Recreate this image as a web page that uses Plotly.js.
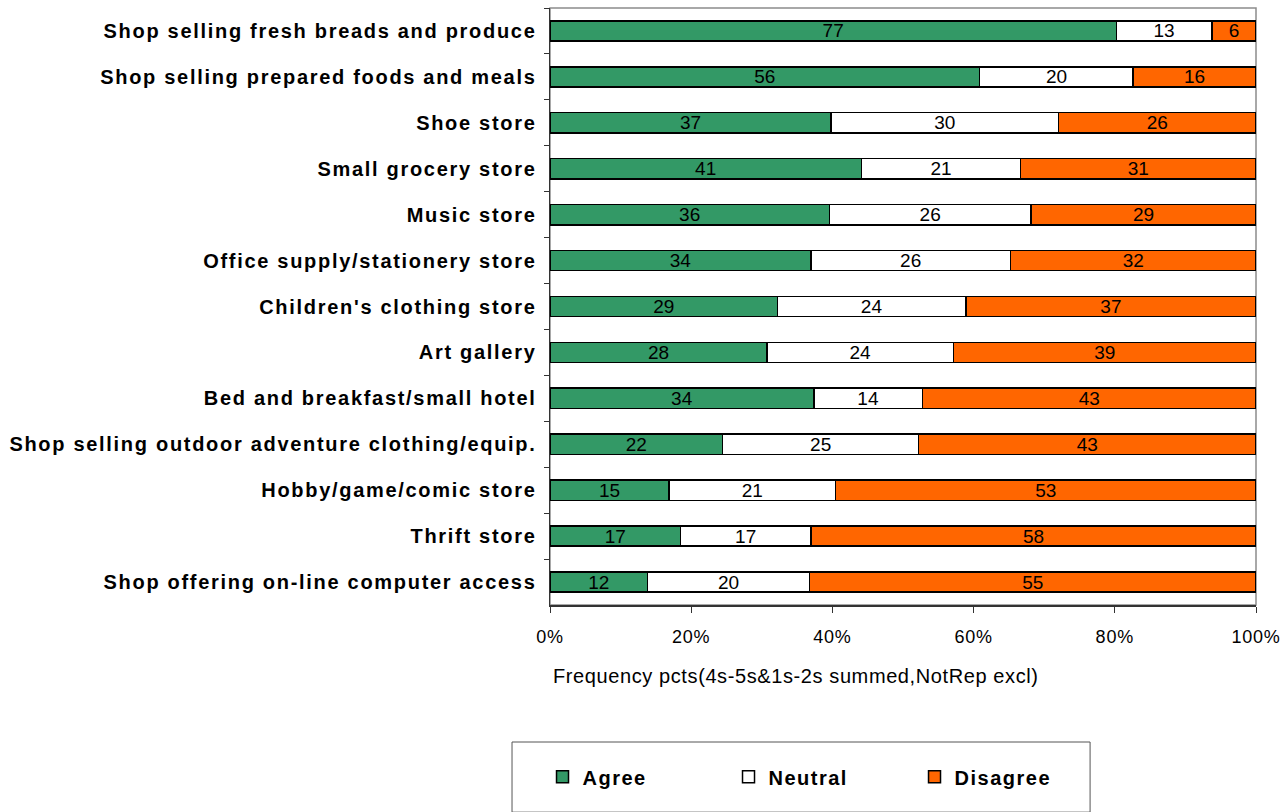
<!DOCTYPE html>
<html>
<head>
<meta charset="utf-8">
<script src="https://cdn.plot.ly/plotly-3.0.1.min.js"></script>
<style>
html, body { margin: 0; padding: 0; background: #fff; }
#chart { width: 1288px; height: 812px; }
.yaxislayer-above .ytick text { letter-spacing: 1.7px; }
.xaxislayer-above .xtick text { letter-spacing: 0.8px; }
.legendtext { letter-spacing: 1.5px; }
.annotation-text { letter-spacing: 0.6px; }
</style>
</head>
<body>
<div id="chart"></div>
<script>
const categories = [
  "Shop selling fresh breads and produce",
  "Shop selling prepared foods and meals",
  "Shoe store",
  "Small grocery store",
  "Music store",
  "Office supply/stationery store",
  "Children's clothing store",
  "Art gallery",
  "Bed and breakfast/small hotel",
  "Shop selling outdoor adventure clothing/equip.",
  "Hobby/game/comic store",
  "Thrift store",
  "Shop offering on-line computer access"
];
const agree    = [77, 56, 37, 41, 36, 34, 29, 28, 34, 22, 15, 17, 12];
const neutral  = [13, 20, 30, 21, 26, 26, 24, 24, 14, 25, 21, 17, 20];
const disagree = [ 6, 16, 26, 31, 29, 32, 37, 39, 43, 43, 53, 58, 55];
const seriesNames = ["Agree", "Neutral", "Disagree"];
const xTickVals = [0, 20, 40, 60, 80, 100];
const xTickText = ["0%", "20%", "40%", "60%", "80%", "100%"];
const xTitle = "Frequency pcts(4s-5s&1s-2s summed,NotRep excl)";

const colors = ["#339966", "#FFFFFF", "#FF6600"];
const series = [agree, neutral, disagree];
const baseFont = "Liberation Sans, Arial, sans-serif";
const numFont = {family: baseFont, size: 19, color: "#000"};

const traces = series.map((vals, i) => ({
  type: "bar",
  orientation: "h",
  name: seriesNames[i],
  y: categories,
  x: vals,
  text: vals.map(String),
  textposition: "inside",
  insidetextanchor: "middle",
  textangle: 0,
  constraintext: "none",
  textfont: numFont,
  marker: {color: colors[i], line: {color: "#000", width: 1.5}},
  hoverinfo: "skip"
}));

const layout = {
  width: 1288, height: 812,
  margin: {l: 550, r: 32, t: 8, b: 207},
  paper_bgcolor: "#fff",
  plot_bgcolor: "#fff",
  barmode: "stack",
  barnorm: "percent",
  bargap: 0.56,
  showlegend: true,
  legend: {
    orientation: "h",
    x: -0.0106, xanchor: "left",
    y: -0.255, yanchor: "top",
    font: {family: baseFont, size: 20, color: "#000", weight: "bold"},
    entrywidth: 141,
    traceorder: "normal",
    bgcolor: "rgba(0,0,0,0)"
  },
  xaxis: {
    range: [0, 100],
    tickvals: xTickVals,
    ticktext: xTickText,
    ticks: "outside", ticklen: 6, tickcolor: "#333",
    ticklabelstandoff: 9,
    showgrid: false, zeroline: false,
    showline: true, linecolor: "#333", linewidth: 1.5,
    tickfont: {family: baseFont, size: 18, color: "#000"},
    fixedrange: true
  },
  yaxis: {
    autorange: "reversed",
    type: "category",
    ticks: "outside", ticklen: 5, tickcolor: "#333",
    tickson: "boundaries",
    showgrid: false, zeroline: false,
    showline: true, linecolor: "#333", linewidth: 1.5,
    tickfont: {family: baseFont, size: 20, color: "#000", weight: "bold"},
    ticklabelstandoff: 8,
    fixedrange: true
  },
  annotations: [
    {text: xTitle, xref: "paper", yref: "paper", x: 0.348, y: -0.119,
     xanchor: "center", yanchor: "middle", showarrow: false,
     font: {family: baseFont, size: 20, color: "#000"}}
  ],
  shapes: [
    {type: "rect", xref: "paper", yref: "paper", x0: 0, x1: 1, y0: 0, y1: 1,
     line: {color: "#8c8c8c", width: 1.5}, fillcolor: "rgba(0,0,0,0)", layer: "below"},
    {type: "rect", xref: "paper", yref: "paper", x0: -0.0538, x1: 0.765, y0: -0.2295, y1: -0.347,
     line: {color: "#555", width: 1}, fillcolor: "rgba(0,0,0,0)"}
  ]
};

Plotly.newPlot("chart", traces, layout, {displayModeBar: false, staticPlot: true});
</script>
</body>
</html>
